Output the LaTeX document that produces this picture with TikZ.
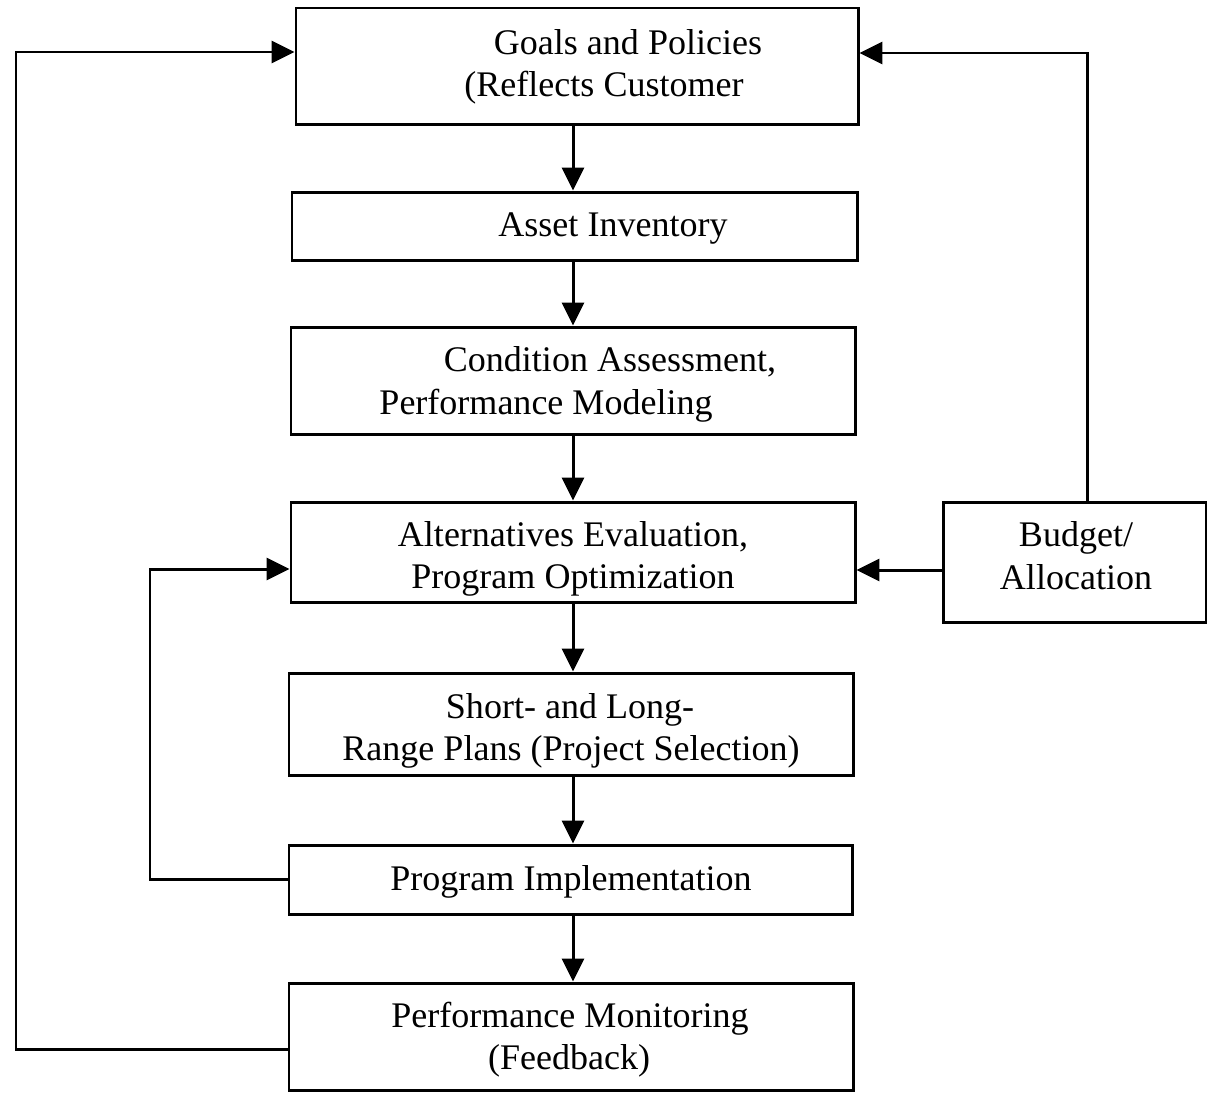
\documentclass[tikz,border=0pt]{standalone}
\usepackage{fontspec}
\setmainfont{Liberation Serif}
\usetikzlibrary{arrows.meta}
\begin{document}
\begin{tikzpicture}[x=0.02cm,y=-0.02cm,
  box/.style={draw,line width=1.7pt,rectangle,inner sep=0pt},
  lbl/.style={anchor=base,inner sep=0pt,font=\fontsize{20.5}{24}\selectfont},
  link/.style={line width=1.7pt},
  arr/.style={line width=1.7pt,-{Triangle[length=13pt,width=12.5pt]}}]
\useasboundingbox (0,0) rectangle (1207,1093);

% process boxes
\node[box,minimum width={562*0.02cm},minimum height={116*0.02cm}] (goals) at (577,66) {};
\node[box,minimum width={565*0.02cm},minimum height={68*0.02cm}] (asset) at (574.5,226) {};
\node[box,minimum width={564*0.02cm},minimum height={107*0.02cm}] (cond) at (573,380.5) {};
\node[box,minimum width={564*0.02cm},minimum height={100*0.02cm}] (alt) at (573,552) {};
\node[box,minimum width={263*0.02cm},minimum height={120*0.02cm}] (budget) at (1074.5,562) {};
\node[box,minimum width={564*0.02cm},minimum height={102*0.02cm}] (plans) at (571,724) {};
\node[box,minimum width={563*0.02cm},minimum height={69*0.02cm}] (impl) at (570.5,879.5) {};
\node[box,minimum width={564*0.02cm},minimum height={107*0.02cm}] (mon) at (571,1036.5) {};

% box texts
\node[lbl] (goalsA) at (628,54) {Goals and Policies};
\node[lbl] (goalsB) at (604,96) {(Reflects Customer};
\node[lbl] (assetA) at (613,236) {Asset Inventory};
\node[lbl] (condA) at (610,371) {Condition Assessment,};
\node[lbl] (condB) at (546,414) {Performance Modeling};
\node[lbl] (altA) at (573,546) {Alternatives Evaluation,};
\node[lbl] (altB) at (573,588) {Program Optimization};
\node[lbl] (budA) at (1076,546) {Budget/};
\node[lbl] (budB) at (1076,589) {Allocation};
\node[lbl] (plansA) at (570,718) {Short- and Long-};
\node[lbl] (plansB) at (571,760) {Range Plans (Project Selection)};
\node[lbl] (implA) at (571,890) {Program Implementation};
\node[lbl] (monA) at (570,1027) {Performance Monitoring};
\node[lbl] (monB) at (569,1069) {(Feedback)};

% main downward flow
\coordinate (spine) at (573,0);
\draw[arr] (goals.south -| spine) -- (asset.north -| spine);
\draw[arr] (asset.south -| spine) -- (cond.north -| spine);
\draw[arr] (cond.south -| spine) -- (alt.north -| spine);
\draw[arr] (alt.south -| spine) -- (plans.north -| spine);
\draw[arr] (plans.south -| spine) -- (impl.north -| spine);
\draw[arr] (impl.south -| spine) -- (mon.north -| spine);

% outer feedback loop
\coordinate (outerB) at (16,1049);
\coordinate (outerT) at (16,52);
\draw[arr] (mon.west |- outerB) -- (outerB) -- (outerT) -- (goals.west |- outerT);

% implementation loop
\coordinate (innerB) at (150,879.5);
\coordinate (innerT) at (150,569);
\draw[arr] (impl.west) -- (innerB) -- (innerT) -- (alt.west |- innerT);

% budget links
\coordinate (budL) at (0,570);
\draw[arr] (budget.west |- budL) -- (alt.east |- budL);
\coordinate (budT) at (1087,53);
\draw[arr] (budget.north -| budT) -- (budT) -- (goals.east |- budT);
\end{tikzpicture}
\end{document}
